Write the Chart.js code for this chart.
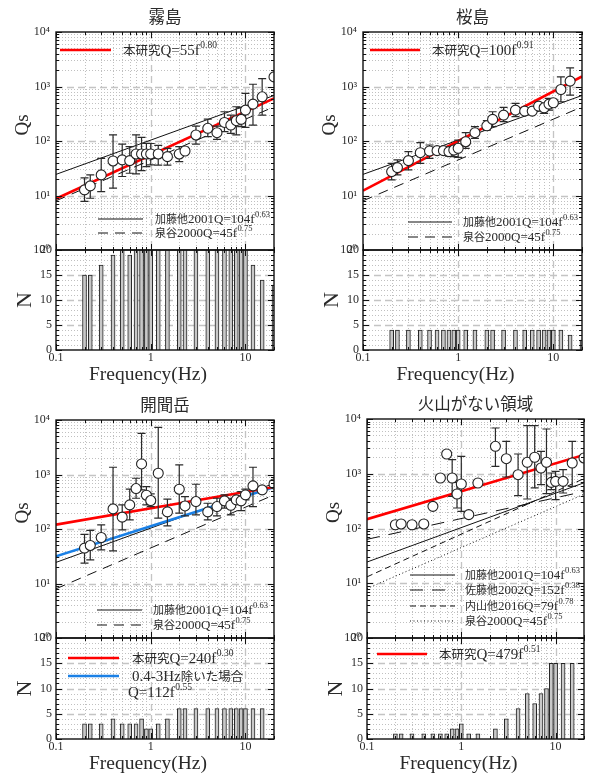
<!DOCTYPE html>
<html>
<head>
<meta charset="utf-8">
<script src="https://cdn.jsdelivr.net/npm/chart.js@4.4.1/dist/chart.umd.min.js"></script>
<style>
  html, body { margin: 0; padding: 0; background: #fff; }
  body { width: 589px; height: 774px; position: relative; overflow: hidden; }
  canvas { position: absolute; }
</style>
</head>
<body>
<script>
// centre frequencies (Hz) of the analysed bands
const FREQ = [0.2, 0.23, 0.3, 0.4, 0.5, 0.6, 0.7, 0.8, 0.9, 1, 1.2, 1.5, 2, 2.3, 3, 4, 5, 6, 7, 8, 9, 10, 12, 15, 20];

// 霧島
const kirishimaQ  = [12.7, 15, 23.9, 43, 45, 43.7, 57.8, 57.8, 57.8, 57.8, 57.8, 51.6, 57.8, 65.6, 129, 171, 142, 219, 196, 236, 249, 369, 475, 647, 1500];
const kirishimaHi = [21, 23.9, 48, 129, 88, 79, 129, 117, 90.6, 90, 83, 73.5, 79, null, 188, 252, 188, 344, 299, 425, 413, 745, 1100, 1400, null];
const kirishimaLo = [7.8, 8.9, 11.8, 13.6, 22.3, 25.6, 24.9, 28.7, 33.9, 36.4, 36, 36, 41.9, null, 88, 120, 107, 148, 138, 129, 183, 178, 196, 299, null];
const kirishimaN  = [15, 15, 17, 19, 20, 19, 20, 20, 20, 20, 20, 20, 20, 20, 20, 20, 20, 20, 20, 20, 20, 20, 17, 14, 13];

// 桜島
const sakurajimaQ  = [27.5, 32.5, 43.6, 61, 65.6, 66.5, 66.5, 63.8, 68.4, 73.5, 97, 142, 190, 249, 299, 369, 354, 354, 437, 407, 475, 502, 881, 1253, null];
const sakurajimaHi = [39, 44.9, 63.8, 93, 84.5, null, null, 70.5, 78.7, 104, 142, 183, 236, 344, 413, 489, null, null, 502, 489, 603, 578, 1500, 2195, null];
const sakurajimaLo = [19.4, 23.9, 29.5, 39, 48, null, null, 53, 51.7, 50, 73, 112, 158, 183, 226, 279, null, null, 359, 321, 369, 436, 525, 693, null];
const sakurajimaN  = [4, 4, 4, 4, 4, 4, 4, 4, 4, 4, 4, 4, 4, 4, 4, 4, 4, 4, 4, 4, 4, 4, 4, 3, 2];

// 開聞岳
const kaimondakeQ  = [44.6, 49.9, 69.8, 234, 165, 277, 552, 1563, 417, 333, 1055, 206, 537, 265, 319, 206, 258, 328, 273, 342, 328, 423, 618, 522, 671];
const kaimondakeHi = [80, 94, 119, 1358, 277, 537, 853, 5700, 601, 440, 7350, 352, 1500, 394, 662, 297, 367, 423, 367, null, 487, 537, 1358, null, null];
const kaimondakeLo = [23.7, 27.2, 41.5, 39.8, 96.7, 147, 367, 522, 277, 258, 158, 114, 195, 174, 182, 147, 174, 241, 182, null, 218, 342, 258, null, null];
const kaimondakeN  = [3, 3, 3, 4, 3, 3, 3, 4, 2, 2, 3, 4, 6, 6, 6, 6, 6, 6, 6, 6, 6, 6, 6, 6, null];

// 火山がない領域
const nonVolcQ  = [117, 121, 117, 121, 254, 836, 2295, 836, 427, 650, 179, 678, null, 3170, 1884, 961, 1618, 2000, 1273, 1618, 697, 726, 726, 1572, 1942];
const nonVolcHi = [null, null, null, null, null, null, null, 1807, 697, 2080, null, null, null, 6850, 3906, 2295, 7550, 7550, 2565, 6560, 1033, 1107, 1188, 3906, null];
const nonVolcLo = [null, null, null, null, null, null, null, 387, 237, 206, null, null, null, 1365, 872, 398, 346, 550, 631, 432, 512, 337, 445, 589, null];
const nonVolcN  = [1, 1, 1, 1, 1, 1, 1, 2, 2, 3, 1, 1, null, 2, 4, 6, 9, 7, 9, 10, 15, 15, 15, 15, null];

// fitted relations, read at the axis ends f = 0.1 and f = 20 Hz
const FIT_F = [0.1, 20];
const fitOursKirishima  = [8.7, 604];
const fitOursSakurajima = [12.3, 1530];
const fitOursKaimondake = [120, 589];
const fitExclKaimondake = [31.6, 588];
const fitOursNonVolc    = [148, 2205];
const fitKato2001       = [24.4, 684];
const fitIzutani2000    = [8.0, 423];
const fitSato2002       = [63.4, 474];
const fitUchiyama2016   = [13.1, 816];

// tick labels
const Q_TICKS = [1, 10, 100, 1000, 10000];
const Q_TICK_LABELS = ['10⁰', '10¹', '10²', '10³', '10⁴'];
const F_TICKS = [0.1, 1, 10];
const F_TICK_LABELS = ['0.1', '1', '10'];
const N_TICKS = [0, 5, 10, 15, 20];

const SERIF = "'Liberation Serif', 'DejaVu Serif', serif";
const CJK = "'Noto Sans CJK JP', 'Noto Sans', sans-serif";
const TEXT = '#2a2a2a';
const RED = '#ff0000';
const BLUE = '#1a80e6';
const BLACK = '#111111';

const META = new Map();

function isCjk(ch) { return ch.charCodeAt(0) >= 0x2e80; }

function richText(ctx, x, y, text, sup, big) {
  const ls = big ? 15 : 13, cs = big ? 12.5 : 11, ss = big ? 9.5 : 8.5;
  ctx.fillStyle = TEXT;
  ctx.textAlign = 'left';
  ctx.textBaseline = 'alphabetic';
  let cx = x;
  const by = y + ls * 0.33;
  for (const ch of text) {
    ctx.font = isCjk(ch) ? `${cs}px ${CJK}` : `${ls}px ${SERIF}`;
    ctx.fillText(ch, cx, by);
    cx += ctx.measureText(ch).width;
  }
  if (sup) {
    ctx.font = `${ss}px ${SERIF}`;
    ctx.fillText(sup, cx + 0.5, by - ls * 0.45);
  }
}

function gridValues(scale, kind) {
  const out = [];
  if (kind === 'log') {
    const e0 = Math.floor(Math.log10(scale.min) + 1e-9);
    const e1 = Math.ceil(Math.log10(scale.max) - 1e-9);
    for (let e = e0; e <= e1; e++) {
      for (let k = 1; k <= 9; k++) {
        const v = k * Math.pow(10, e);
        if (v >= scale.min * 0.9999 && v <= scale.max * 1.0001) out.push({ v, major: k === 1 });
      }
    }
  } else {
    for (let v = scale.min; v <= scale.max; v += 1) out.push({ v, major: v % 5 === 0 });
  }
  return out;
}

function drawGrid(chart, meta) {
  const { ctx, chartArea: a, scales } = chart;
  ctx.save();
  const pass = (scale, kind, vertical) => {
    for (const g of gridValues(scale, kind)) {
      const p = Math.round(scale.getPixelForValue(g.v)) + 0.5;
      if (vertical ? (p <= a.left + 1 || p >= a.right - 1) : (p <= a.top + 1 || p >= a.bottom - 1)) continue;
      ctx.strokeStyle = g.major ? '#c4c4c4' : '#c0c0c0';
      ctx.lineWidth = g.major ? 1.3 : 1;
      ctx.setLineDash(g.major ? [7, 4] : [1, 2]);
      ctx.beginPath();
      if (vertical) { ctx.moveTo(p, a.top); ctx.lineTo(p, a.bottom); }
      else { ctx.moveTo(a.left, p); ctx.lineTo(a.right, p); }
      ctx.stroke();
    }
  };
  pass(scales.x, 'log', true);
  pass(scales.y, meta.kind === 'q' ? 'log' : 'lin', false);
  ctx.restore();
}

function drawFrame(chart, meta) {
  const { ctx, chartArea: a, scales } = chart;
  ctx.save();
  ctx.setLineDash([]);
  ctx.strokeStyle = BLACK;
  ctx.lineWidth = 1;
  ctx.beginPath();
  for (const g of gridValues(scales.x, 'log')) {
    const p = Math.round(scales.x.getPixelForValue(g.v)) + 0.5;
    const len = g.major ? 6 : 3;
    ctx.moveTo(p, a.bottom); ctx.lineTo(p, a.bottom - len);
    ctx.moveTo(p, a.top); ctx.lineTo(p, a.top + len);
  }
  for (const g of gridValues(scales.y, meta.kind === 'q' ? 'log' : 'lin')) {
    const p = Math.round(scales.y.getPixelForValue(g.v)) + 0.5;
    const len = g.major ? 6 : 3;
    ctx.moveTo(a.left, p); ctx.lineTo(a.left + len, p);
    ctx.moveTo(a.right, p); ctx.lineTo(a.right - len, p);
  }
  ctx.stroke();
  ctx.lineWidth = 1.4;
  ctx.strokeRect(a.left, a.top, a.right - a.left, a.bottom - a.top);

  const cx = (a.left + a.right) / 2;
  ctx.fillStyle = TEXT;
  ctx.textAlign = 'center';
  ctx.textBaseline = 'middle';
  if (meta.kind === 'q') {
    ctx.font = `16.5px ${CJK}`;
    ctx.fillText(meta.title, cx, a.top - 15);
    ctx.save();
    ctx.translate(a.left - 33, (a.top + a.bottom) / 2 - 16);
    ctx.rotate(-Math.PI / 2);
    ctx.font = `19px ${SERIF}`;
    ctx.fillText('Qs', 0, 0);
    ctx.restore();
  } else {
    ctx.save();
    ctx.translate(a.left - 31, (a.top + a.bottom) / 2);
    ctx.rotate(-Math.PI / 2);
    ctx.font = `22px ${SERIF}`;
    ctx.fillText('N', 0, 0);
    ctx.restore();
    ctx.font = `19.5px ${SERIF}`;
    ctx.fillText('Frequency(Hz)', cx - 17, a.bottom + 25);
  }

  for (const it of meta.legend) {
    const y = a.top + it.y;
    if (it.color) {
      ctx.strokeStyle = it.color;
      ctx.lineWidth = it.width;
      ctx.setLineDash(it.dash || []);
      ctx.beginPath();
      ctx.moveTo(a.left + it.x1, y);
      ctx.lineTo(a.left + it.x2, y);
      ctx.stroke();
      ctx.setLineDash([]);
    }
    richText(ctx, a.left + it.tx, y, it.text, it.sup, it.big);
  }
  ctx.restore();
}

const panelPlugin = {
  id: 'panel',
  beforeDatasetsDraw(chart) {
    const meta = META.get(chart.canvas);
    if (meta) drawGrid(chart, meta);
  },
  beforeDatasetDraw(chart, args) {
    const ds = chart.data.datasets[args.index];
    if (!ds.errorBars) return;
    const { ctx, chartArea: a, scales: { y } } = chart;
    ctx.save();
    ctx.beginPath();
    ctx.rect(a.left, a.top, a.right - a.left, a.bottom - a.top);
    ctx.clip();
    ctx.strokeStyle = '#2a2a2a';
    ctx.lineWidth = 1.2;
    ds.data.forEach((d, i) => {
      if (d.lo == null && d.hi == null) return;
      const px = args.meta.data[i].x;
      const top = y.getPixelForValue(d.hi ?? d.y);
      const bot = y.getPixelForValue(d.lo ?? d.y);
      ctx.beginPath();
      ctx.moveTo(px, top); ctx.lineTo(px, bot);
      ctx.moveTo(px - 4, top); ctx.lineTo(px + 4, top);
      ctx.moveTo(px - 4, bot); ctx.lineTo(px + 4, bot);
      ctx.stroke();
    });
    ctx.restore();
  },
  afterDraw(chart) {
    const meta = META.get(chart.canvas);
    if (meta) drawFrame(chart, meta);
  },
};

function makeCanvas(x, y, w, h) {
  const cv = document.createElement('canvas');
  cv.width = w; cv.height = h;
  cv.style.left = x + 'px'; cv.style.top = y + 'px';
  cv.style.width = w + 'px'; cv.style.height = h + 'px';
  document.body.appendChild(cv);
  return cv;
}

function fitSet(values, color, width, dash) {
  return {
    data: FIT_F.map((f, i) => ({ x: f, y: values[i] })),
    showLine: true, pointRadius: 0, borderColor: color, borderWidth: width,
    borderDash: dash || [], fill: false,
  };
}

const tickFont = { family: SERIF, size: 12 };

function buildPanel(p) {
  const W = 294;
  // Q(f) plot
  const qy0 = p.canvasY;
  const qcv = makeCanvas(p.x0, qy0, W, p.mid + 14 - qy0);
  META.set(qcv, { kind: 'q', title: p.title, legend: p.qLegend });
  const points = FREQ.map((f, i) => ({ x: f, y: p.q[i], lo: p.lo[i], hi: p.hi[i] })).filter(d => d.y != null);
  new Chart(qcv, {
    type: 'scatter',
    data: {
      datasets: [
        { data: points, errorBars: true, pointRadius: 5, pointHoverRadius: 5, pointBackgroundColor: '#fff', pointBorderColor: '#222', pointBorderWidth: 1.1 },
        ...p.fits.map(ft => fitSet(ft.data, ft.color, ft.width, ft.dash)),
      ],
    },
    options: {
      responsive: false, animation: false, devicePixelRatio: 1, events: [],
      layout: { autoPadding: false, padding: { left: 0, top: p.top - qy0, right: p.x0 + W - p.right, bottom: 14 } },
      plugins: { legend: { display: false }, tooltip: { enabled: false } },
      scales: {
        x: { type: 'logarithmic', min: 0.1, max: 20, display: false },
        y: {
          type: 'logarithmic', min: 1, max: 10000,
          grid: { display: false, drawTicks: false }, border: { display: false },
          ticks: { font: tickFont, color: TEXT, padding: 6, autoSkip: false,
            callback: v => Q_TICK_LABELS[Q_TICKS.indexOf(v)] ?? '' },
          afterBuildTicks: s => { s.ticks = Q_TICKS.map(v => ({ value: v })); },
          afterFit: s => { s.width = p.left - p.x0; },
        },
      },
    },
    plugins: [panelPlugin],
  });

  // N histogram
  const ny0 = p.mid - 14;
  const ncv = makeCanvas(p.x0, ny0, W, p.bottom + 38 - ny0);
  META.set(ncv, { kind: 'n', legend: p.nLegend });
  const bars = FREQ.map((f, i) => ({ x: f, y: p.n[i] })).filter(d => d.y != null);
  new Chart(ncv, {
    type: 'bar',
    data: {
      datasets: [{ data: bars, barThickness: 4, backgroundColor: '#c8c8c8', borderColor: '#222', borderWidth: 1 }],
    },
    options: {
      responsive: false, animation: false, devicePixelRatio: 1, events: [],
      layout: { autoPadding: false, padding: { left: 0, top: 14, right: p.x0 + W - p.right, bottom: 22 } },
      plugins: { legend: { display: false }, tooltip: { enabled: false } },
      scales: {
        x: {
          type: 'logarithmic', min: 0.1, max: 20, offset: false,
          grid: { display: false, drawTicks: false, offset: false }, border: { display: false },
          ticks: { font: tickFont, color: TEXT, padding: 1, autoSkip: false, maxRotation: 0,
            callback: v => F_TICK_LABELS[F_TICKS.indexOf(v)] ?? '' },
          afterBuildTicks: s => { s.ticks = F_TICKS.map(v => ({ value: v })); },
          afterFit: s => { s.height = 16; },
        },
        y: {
          type: 'linear', min: 0, max: 20,
          grid: { display: false, drawTicks: false }, border: { display: false },
          ticks: { font: tickFont, color: TEXT, padding: 4, autoSkip: false },
          afterBuildTicks: s => { s.ticks = N_TICKS.map(v => ({ value: v })); },
          afterFit: s => { s.width = p.left - p.x0; },
        },
      },
    },
    plugins: [panelPlugin],
  });
}

const DASH = [10, 7];

const PANELS = [
  {
    title: '霧島', x0: 0, canvasY: 0, left: 56, right: 274, top: 32, mid: 250, bottom: 350,
    q: kirishimaQ, lo: kirishimaLo, hi: kirishimaHi, n: kirishimaN,
    fits: [
      { data: fitOursKirishima, color: RED, width: 2.6 },
      { data: fitKato2001, color: BLACK, width: 1 },
      { data: fitIzutani2000, color: BLACK, width: 1, dash: DASH },
    ],
    qLegend: [
      { x1: 4, x2: 55, y: 18, color: RED, width: 2.6, tx: 67, text: '本研究Q=55f', sup: '0.80', big: true },
      { x1: 42, x2: 87, y: 187, color: BLACK, width: 1, tx: 99, text: '加藤他2001Q=104f', sup: '0.63' },
      { x1: 42, x2: 87, y: 201, color: BLACK, width: 1, dash: DASH, tx: 99, text: '泉谷2000Q=45f', sup: '0.75' },
    ],
    nLegend: [],
  },
  {
    title: '桜島', x0: 295, canvasY: 0, left: 363, right: 582, top: 32, mid: 250, bottom: 350,
    q: sakurajimaQ, lo: sakurajimaLo, hi: sakurajimaHi, n: sakurajimaN,
    fits: [
      { data: fitOursSakurajima, color: RED, width: 2.6 },
      { data: fitKato2001, color: BLACK, width: 1 },
      { data: fitIzutani2000, color: BLACK, width: 1, dash: DASH },
    ],
    qLegend: [
      { x1: 7, x2: 57, y: 18, color: RED, width: 2.6, tx: 69, text: '本研究Q=100f', sup: '0.91', big: true },
      { x1: 45, x2: 89, y: 190, color: BLACK, width: 1, tx: 100, text: '加藤他2001Q=104f', sup: '0.63' },
      { x1: 45, x2: 89, y: 205, color: BLACK, width: 1, dash: DASH, tx: 100, text: '泉谷2000Q=45f', sup: '0.75' },
    ],
    nLegend: [],
  },
  {
    title: '開聞岳', x0: 0, canvasY: 388, left: 56, right: 274, top: 420, mid: 638, bottom: 739,
    q: kaimondakeQ, lo: kaimondakeLo, hi: kaimondakeHi, n: kaimondakeN,
    fits: [
      { data: fitOursKaimondake, color: RED, width: 2.6 },
      { data: fitExclKaimondake, color: BLUE, width: 2.6 },
      { data: fitKato2001, color: BLACK, width: 1 },
      { data: fitIzutani2000, color: BLACK, width: 1, dash: DASH },
    ],
    qLegend: [
      { x1: 41, x2: 86, y: 190, color: BLACK, width: 1, tx: 97, text: '加藤他2001Q=104f', sup: '0.63' },
      { x1: 41, x2: 86, y: 205, color: BLACK, width: 1, dash: DASH, tx: 97, text: '泉谷2000Q=45f', sup: '0.75' },
    ],
    nLegend: [
      { x1: 12, x2: 63, y: 20, color: RED, width: 2.6, tx: 76, text: '本研究Q=240f', sup: '0.30', big: true },
      { x1: 12, x2: 63, y: 38, color: BLUE, width: 2.6, tx: 76, text: '0.4-3Hz除いた場合', big: true },
      { y: 54, tx: 72, text: 'Q=112f', sup: '0.55', big: true },
    ],
  },
  {
    title: '火山がない領域', x0: 295, canvasY: 388, left: 367, right: 584, top: 419, mid: 638, bottom: 739,
    q: nonVolcQ, lo: nonVolcLo, hi: nonVolcHi, n: nonVolcN,
    fits: [
      { data: fitOursNonVolc, color: RED, width: 2.6 },
      { data: fitKato2001, color: BLACK, width: 1 },
      { data: fitSato2002, color: BLACK, width: 1, dash: [13, 9] },
      { data: fitUchiyama2016, color: BLACK, width: 1, dash: [6, 4] },
      { data: fitIzutani2000, color: BLACK, width: 1, dash: [1, 2.5] },
    ],
    qLegend: [
      { x1: 43, x2: 88, y: 156, color: BLACK, width: 1, tx: 98, text: '加藤他2001Q=104f', sup: '0.63' },
      { x1: 43, x2: 88, y: 171, color: BLACK, width: 1, dash: [13, 9], tx: 98, text: '佐藤他2002Q=152f', sup: '0.38' },
      { x1: 43, x2: 88, y: 187, color: BLACK, width: 1, dash: [6, 4], tx: 98, text: '内山他2016Q=79f', sup: '0.78' },
      { x1: 43, x2: 88, y: 202, color: BLACK, width: 1, dash: [1, 2.5], tx: 98, text: '泉谷2000Q=45f', sup: '0.75' },
    ],
    nLegend: [
      { x1: 10, x2: 60, y: 16, color: RED, width: 2.6, tx: 72, text: '本研究Q=479f', sup: '0.51', big: true },
    ],
  },
];

PANELS.forEach(buildPanel);
</script>
</body>
</html>
